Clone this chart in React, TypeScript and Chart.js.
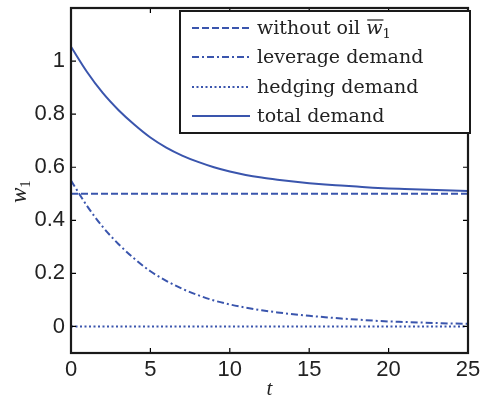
import React, { useEffect, useRef } from "react";
import { Chart, registerables } from "chart.js";

Chart.register(...registerables);

const tValues = [0, 1, 2, 3, 4, 5, 6, 7, 8, 9, 10, 11, 12, 13, 14, 15, 16, 17, 18, 19, 20, 21, 22, 23, 24, 25];
const withoutOil = [0.5, 0.5, 0.5, 0.5, 0.5, 0.5, 0.5, 0.5, 0.5, 0.5, 0.5, 0.5, 0.5, 0.5, 0.5, 0.5, 0.5, 0.5, 0.5, 0.5, 0.5, 0.5, 0.5, 0.5, 0.5, 0.5];
const leverage = [0.55, 0.455, 0.375, 0.31, 0.255, 0.208, 0.172, 0.142, 0.118, 0.098, 0.083, 0.071, 0.061, 0.053, 0.046, 0.04, 0.035, 0.03, 0.026, 0.022, 0.019, 0.017, 0.015, 0.013, 0.011, 0.01];
const hedging = [0, 0, 0, 0, 0, 0, 0, 0, 0, 0, 0, 0, 0, 0, 0, 0, 0, 0, 0, 0, 0, 0, 0, 0, 0, 0];
const total = [1.054, 0.96, 0.88, 0.815, 0.76, 0.712, 0.674, 0.644, 0.62, 0.6, 0.584, 0.571, 0.561, 0.553, 0.546, 0.54, 0.535, 0.531, 0.527, 0.523, 0.52, 0.518, 0.516, 0.514, 0.512, 0.51];
const seriesLabels = ["without oil ", "leverage demand", "hedging demand", "total demand"];
const xTicks = [0, 5, 10, 15, 20, 25];
const yTicks = [0, 0.2, 0.4, 0.6, 0.8, 1];

const BLUE = "#3a55ad";
const SERIF = '"DejaVu Serif", "Liberation Serif", serif';
const SANS = '"Liberation Sans", Arial, sans-serif';

const toPts = (ys: number[]) => tValues.map((t, i) => ({ x: t, y: ys[i] }));

const framePlugin = {
  id: "framePlugin",
  afterDraw(chart: any) {
    const ctx = chart.ctx;
    const { left, right, top, bottom } = chart.chartArea;
    const xs = chart.scales.x;
    const ys = chart.scales.y;
    ctx.save();
    ctx.strokeStyle = "#000";
    ctx.lineWidth = 1.2;
    ctx.setLineDash([]);
    const tl = 5;
    xTicks.forEach((v) => {
      const px = xs.getPixelForValue(v);
      ctx.beginPath();
      ctx.moveTo(px, bottom);
      ctx.lineTo(px, bottom - tl);
      ctx.moveTo(px, top);
      ctx.lineTo(px, top + tl);
      ctx.stroke();
    });
    yTicks.forEach((v) => {
      const py = ys.getPixelForValue(v);
      ctx.beginPath();
      ctx.moveTo(left, py);
      ctx.lineTo(left + tl, py);
      ctx.moveTo(right, py);
      ctx.lineTo(right - tl, py);
      ctx.stroke();
    });
    ctx.lineWidth = 2.2;
    ctx.strokeStyle = "#1a1a1a";
    ctx.strokeRect(left, top, right - left, bottom - top);

    // legend
    const bx = left + 109;
    const by = top + 3;
    const bw = right + 2 - bx;
    const bh = 122;
    ctx.fillStyle = "#fff";
    ctx.fillRect(bx, by, bw, bh);
    ctx.lineWidth = 2;
    ctx.strokeStyle = "#1a1a1a";
    ctx.strokeRect(bx, by, bw, bh);
    const rows = [17, 46, 76, 105];
    chart.data.datasets.forEach((ds: any, i: number) => {
      const ry = by + rows[i];
      ctx.strokeStyle = ds.borderColor;
      ctx.lineWidth = ds.borderWidth;
      ctx.setLineDash(ds.borderDash || []);
      ctx.beginPath();
      ctx.moveTo(bx + 12, ry);
      ctx.lineTo(bx + 70, ry);
      ctx.stroke();
      ctx.setLineDash([]);
      ctx.fillStyle = "#222";
      ctx.textBaseline = "alphabetic";
      ctx.textAlign = "left";
      ctx.font = `19px ${SERIF}`;
      const tx = bx + 77;
      const base = ry + 6;
      ctx.fillText(ds.label, tx, base);
      if (i === 0) {
        const w1 = ctx.measureText(ds.label).width;
        ctx.font = `italic 19px ${SERIF}`;
        ctx.fillText("w", tx + w1, base);
        const ww = ctx.measureText("w").width;
        ctx.strokeStyle = "#222";
        ctx.lineWidth = 1.2;
        ctx.beginPath();
        ctx.moveTo(tx + w1 + 1, base - 14);
        ctx.lineTo(tx + w1 + ww + 1, base - 14);
        ctx.stroke();
        ctx.font = `13px ${SERIF}`;
        ctx.fillText("1", tx + w1 + ww, base + 4);
      }
    });

    // axis titles
    ctx.fillStyle = "#222";
    ctx.font = `italic 21px "Liberation Serif", serif`;
    ctx.textAlign = "center";
    ctx.textBaseline = "alphabetic";
    ctx.fillText("t", (left + right) / 2, 395);
    ctx.save();
    ctx.translate(26, 203);
    ctx.rotate(-Math.PI / 2);
    ctx.textAlign = "left";
    ctx.font = `italic 23px "Liberation Serif", serif`;
    ctx.fillText("w", 0, 0);
    const wW = ctx.measureText("w").width;
    ctx.font = `15px "Liberation Serif", serif`;
    ctx.fillText("1", wW, 4);
    ctx.restore();
    ctx.restore();
  },
};

export default function App() {
  const ref = useRef<HTMLCanvasElement | null>(null);
  useEffect(() => {
    if (!ref.current) return;
    const chart = new Chart(ref.current, {
      type: "line",
      data: {
        datasets: [
          { label: seriesLabels[0], data: toPts(withoutOil), borderColor: BLUE, borderWidth: 2, borderDash: [7, 3], pointRadius: 0, fill: false },
          { label: seriesLabels[1], data: toPts(leverage), borderColor: BLUE, borderWidth: 2, borderDash: [7, 3, 2, 3], pointRadius: 0, fill: false, cubicInterpolationMode: "monotone" },
          { label: seriesLabels[2], data: toPts(hedging), borderColor: BLUE, borderWidth: 2, borderDash: [2, 2.5], pointRadius: 0, fill: false },
          { label: seriesLabels[3], data: toPts(total), borderColor: BLUE, borderWidth: 2, pointRadius: 0, fill: false, cubicInterpolationMode: "monotone" },
        ],
      },
      options: {
        animation: false,
        responsive: false,
        maintainAspectRatio: false,
        layout: { padding: { top: 8, right: 14, left: 0, bottom: 0 } },
        plugins: { legend: { display: false }, tooltip: { enabled: false } },
        scales: {
          x: {
            type: "linear",
            min: 0,
            max: 25,
            afterBuildTicks: (s: any) => { s.ticks = xTicks.map((v) => ({ value: v })); },
            afterFit: (s: any) => { s.height = 50; s.paddingLeft = 0; s.paddingRight = 0; },
            grid: { display: false, drawTicks: false },
            border: { display: false },
            ticks: { color: "#222", font: { family: SANS, size: 22 }, padding: 4, maxRotation: 0 },
          },
          y: {
            type: "linear",
            min: -0.1,
            max: 1.2,
            afterBuildTicks: (s: any) => { s.ticks = yTicks.map((v) => ({ value: v })); },
            afterFit: (s: any) => { s.width = 71; s.paddingTop = 0; s.paddingBottom = 0; },
            grid: { display: false, drawTicks: false },
            border: { display: false },
            ticks: { color: "#222", font: { family: SANS, size: 22 }, padding: 6, callback: (v: any) => String(Math.round(Number(v) * 10) / 10) },
          },
        },
      },
      plugins: [framePlugin],
    } as any);
    return () => chart.destroy();
  }, []);
  return (
    <div style={{ position: "fixed", left: 0, top: 0, width: 482, height: 403, background: "#fff" }}>
      <canvas ref={ref} width={482} height={403} style={{ display: "block" }} />
    </div>
  );
}
